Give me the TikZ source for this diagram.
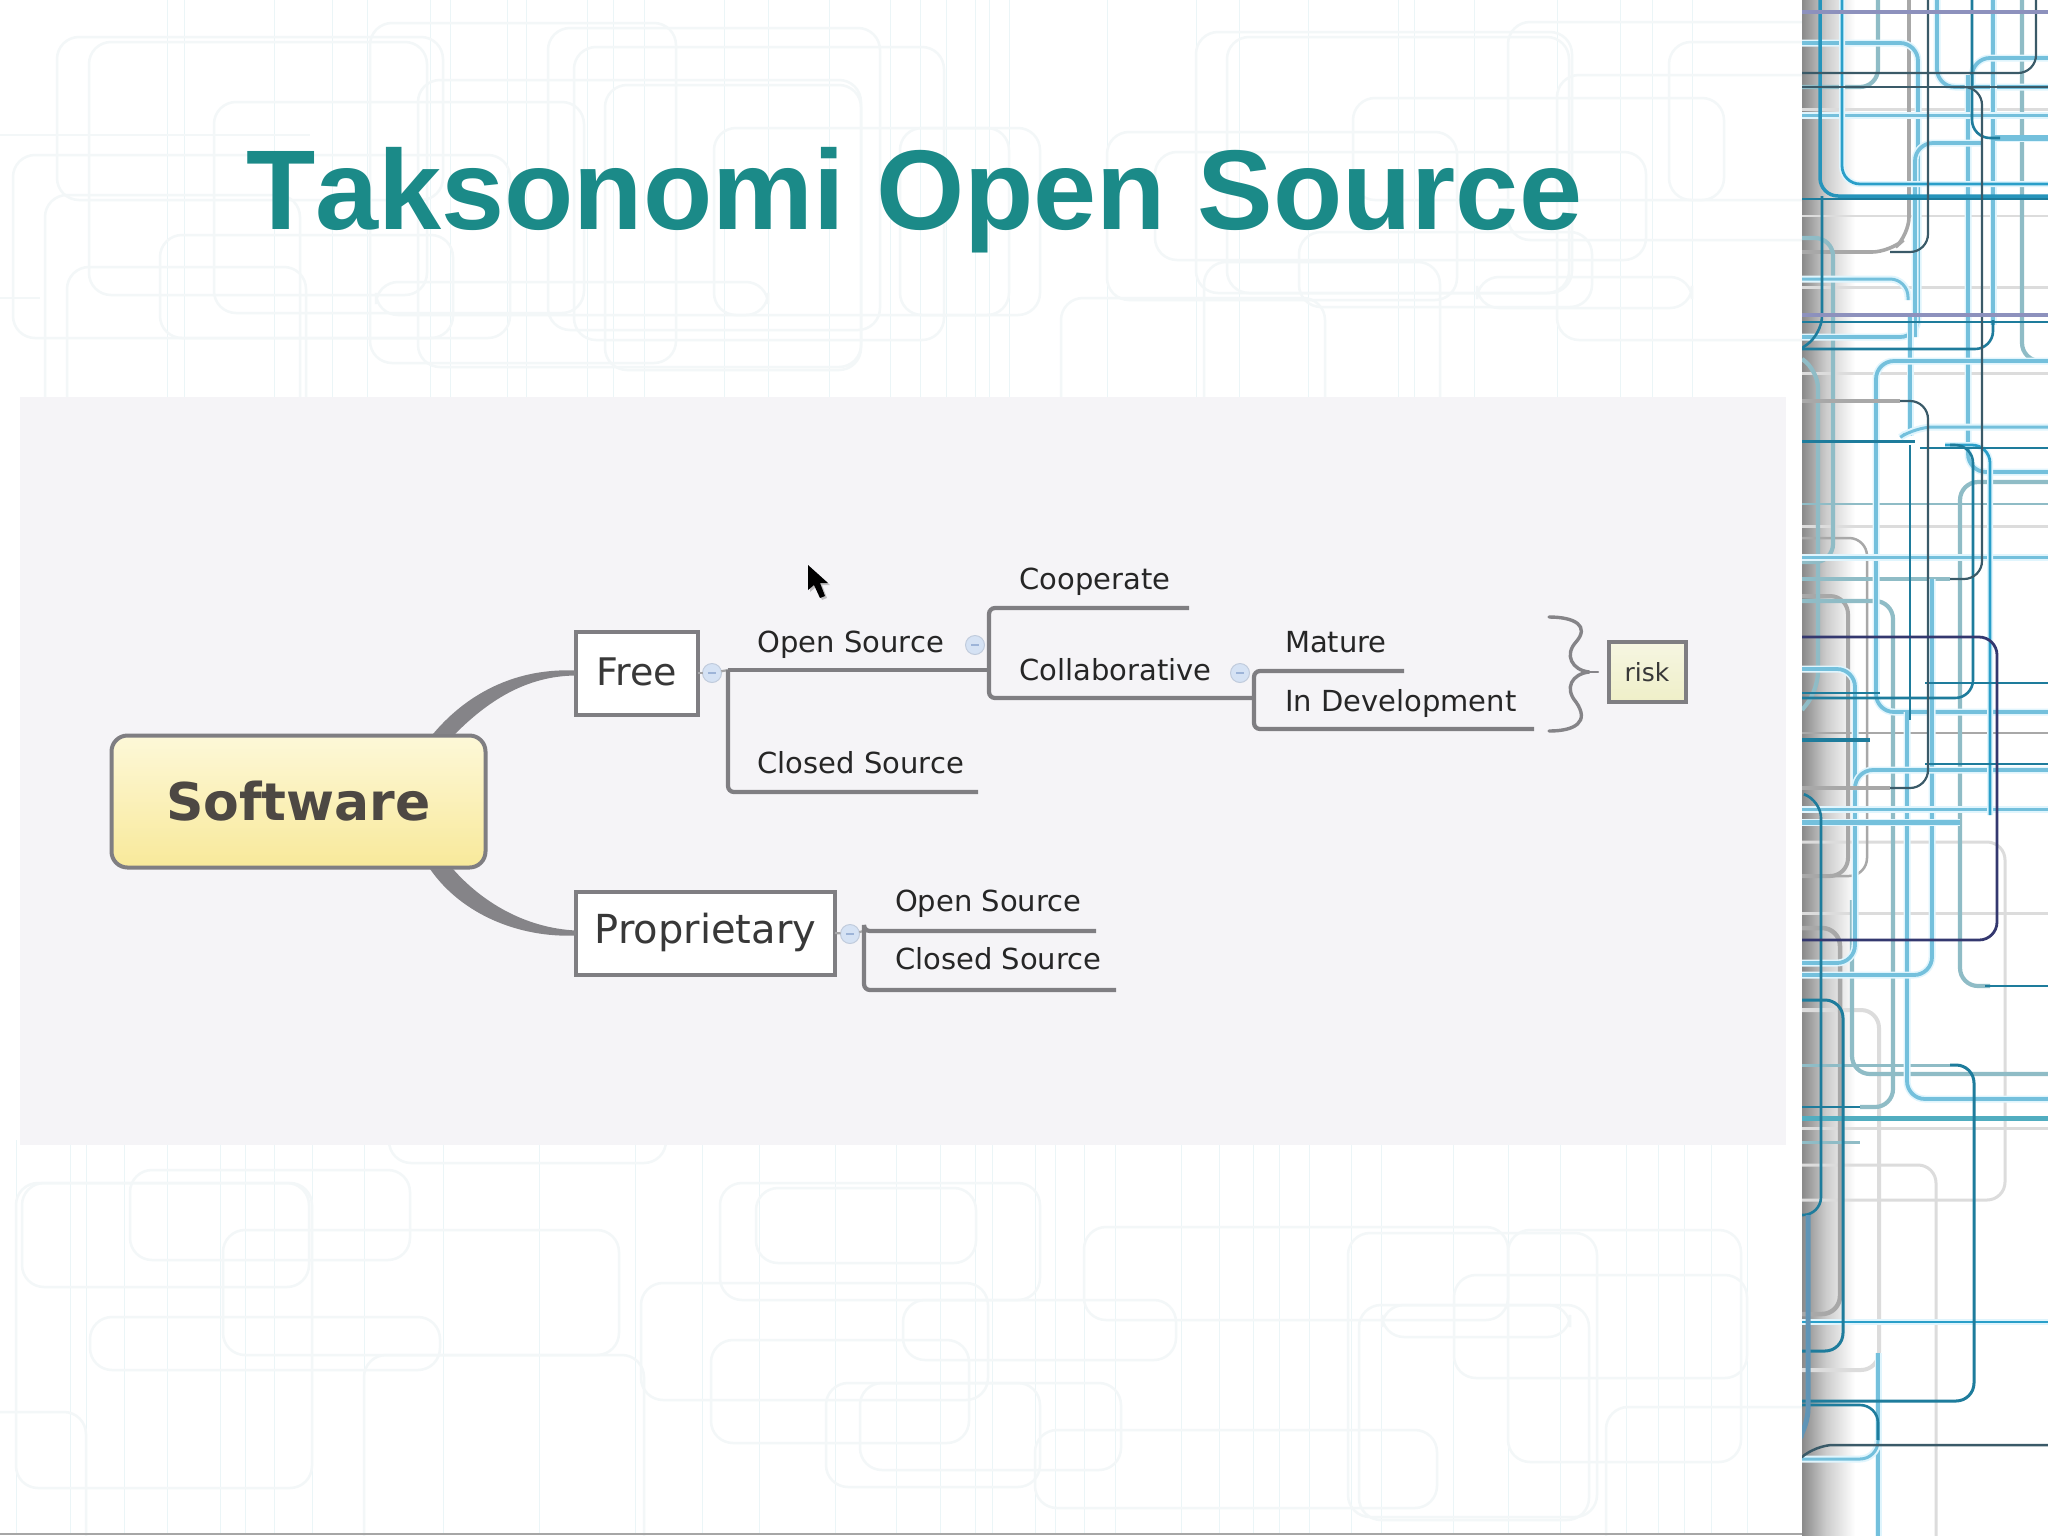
\documentclass[tikz,border=0pt]{standalone}
\usepackage{fontspec}
\usetikzlibrary{calc}
\setmainfont{DejaVu Sans}
\newfontfamily\ttlfont{Liberation Sans}[Kerning=Off]
\definecolor{ttl}{HTML}{1B8A88}
\definecolor{pnl}{HTML}{F5F4F7}
\definecolor{frect}{HTML}{F3F7F8}
\definecolor{fline}{HTML}{EBF5F7}
\definecolor{edge}{HTML}{7F7E82}
\definecolor{cdt}{HTML}{1E7C9C}
\definecolor{clb}{HTML}{74C0DC}
\definecolor{ctb}{HTML}{2A9FC9}
\definecolor{cgt}{HTML}{8FBCC6}
\definecolor{cgy}{HTML}{A8A8A8}
\definecolor{cpg}{HTML}{DCDCDC}
\definecolor{cdk}{HTML}{3A5A68}
\definecolor{cpu}{HTML}{8D91BD}
\definecolor{cnv}{HTML}{34386F}
\definecolor{cst}{HTML}{5F94B6}
\definecolor{sofT}{HTML}{FDF8D8}
\definecolor{sofB}{HTML}{F8E99A}
\definecolor{sofX}{HTML}{4D4843}
\definecolor{rskT}{HTML}{F6F6E2}
\definecolor{rskB}{HTML}{EFEFC8}
\definecolor{knobF}{HTML}{D5E2F4}
\definecolor{knobD}{HTML}{9DB4D8}
\tikzset{
 frc/.style={draw=frect,line width=2.5,rounded corners=22},
 fvl/.style={draw=fline,line width=1},
 dt/.style={draw=cdt,line width=2.6},
 lb/.style={draw=clb,line width=3.8,preaction={draw=cyan!12,line width=7}},
 tb/.style={draw=ctb,line width=2.8,preaction={draw=cyan!12,line width=6}},
 gt/.style={draw=cgt,line width=4.2},
 gy/.style={draw=cgy,line width=3.6},
 pg/.style={draw=cpg,line width=3},
 dk/.style={draw=cdk,line width=2.2},
 pu/.style={draw=cpu,line width=3.6},
 nv/.style={draw=cnv,line width=2.8},
 st/.style={draw=cst,line width=5},
 rc/.style={rounded corners=18},
 topic/.style={draw=edge,line width=4,fill=white,inner sep=0,outer sep=0,text=black!78,align=center},
 branch/.style={draw=edge,line width=4.2,rounded corners=6},
 lbl/.style={anchor=base west,inner sep=0,outer sep=0,text=black!85,font=\fontsize{29}{32}\selectfont},
 knob/.style={circle,inner sep=0,outer sep=0,minimum size=19,fill=knobF,draw=knobF!90!black,line width=1},
 kdash/.style={draw=knobD,line width=1.5},
 stub/.style={draw=edge!70,line width=2.2},
 taper/.style={fill=edge!95,draw=none},
 brace/.style={draw=edge!95,line width=3.4,line cap=round},
}
\begin{document}
\begin{tikzpicture}[x=1pt,y=-1pt]
\useasboundingbox (0,0) rectangle (2048,1535);
\fill[white] (0,0) rectangle (2048,1535);
% faint background pattern
\foreach \a in {167,184,274,332,367,430,450,507,526,587,613,644,724,768,829,890,920,946,975,989,1009,1107,1196,1239,1308,1398,1414,1474,1557,1620,1652,1692}
  \draw[fvl] (\a,0) -- (\a,400);
\foreach \a in {16,70,86,124,167,220,245,274,312,364,443,539,635,702,759,835,896,940,975,992,1035,1055,1084,1115,1181,1219,1253,1279,1309,1351,1381,1453,1508,1560,1626,1658,1684,1711,1747}
  \draw[fvl] (\a,1140) -- (\a,1533);
\foreach \a/\b/\c/\d in {
  57/37/443/200, 89/42/427/295, 370/23/676/363, 548/28/880/330, 574/47/944/340,
  418/80/861/367, 605/85/861/370, 214/102/584/313, 714/128/1040/315, 13/155/510/338,
  45/195/300/420, 160/235/453/338, 67/267/306/420, 376/282/768/315,
  1196/32/1572/293, 1227/37/1569/293, 1508/22/1830/240, 1557/75/1830/340, 1353/98/1724/200,
  1669/42/1830/200, 1107/132/1457/300, 1155/152/1646/260, 1299/232/1592/307,
  1061/298/1325/420, 900/128/1009/315, 1204/262/1440/420, 1477/277/1692/308,
  16/1183/312/1488, 22/1183/309/1287, 223/1230/619/1355, 720/1183/1040/1300, 756/1188/976/1263,
  641/1283/988/1400, 711/1340/969/1443, 826/1383/1040/1487, 364/1355/644/1560, 90/1317/440/1370,
  389/1100/666/1163, -40/1412/86/1560, 1084/1227/1508/1320, 1348/1233/1597/1517, 1454/1275/1747/1378,
  1359/1305/1589/1520, 1382/1305/1570/1337, 1035/1430/1437/1508, 860/1383/1121/1470,
  1508/1230/1741/1462, 903/1300/1176/1360, 1606/1407/1830/1560, 130/1170/410/1260}
  \draw[frc] (\a,\b) rectangle (\c,\d);
\draw[frc] (-5,135) -- (310,135);
\draw[frc] (-5,298) -- (40,298);
% title
\node[anchor=base west,inner sep=0,text=ttl,font=\ttlfont\bfseries\fontsize{113.4}{120}\selectfont] (title) at (246,229) {Taksonomi Open Source};
% panel
\fill[pnl] (20,396.5) rectangle (1786,1145);
\draw[gray!70,line width=2] (0,1534) -- (1802,1534);
% right decorative strip
\fill[white] (1802,0) rectangle (2048,1535);
\shade[left color=black!46,right color=black!20] (1802,0) rectangle (1826,1535);
\shade[left color=black!20,right color=white] (1826,0) rectangle (1855,1535);
\begin{scope}
\clip (1802,0) rectangle (2048,1535);
\foreach \y in {109,373,913,1128,526,287}
  \draw[pg] (1802,\y) -- (2048,\y);
\draw[pg,line width=2] (1802,216) -- (2048,216);
\draw[pg,rc] (1802,842) -- (2005,842) -- (2005,1200) -- (1802,1200);
\draw[pg,rc] (1802,1165) -- (1936,1165) -- (1936,1540);
\draw[pg,rc,line width=4] (1802,1010) -- (1879,1010) -- (1879,1370) -- (1802,1370);
\draw[gy,rc,line width=2.5] (1802,538) -- (1867,538) -- (1867,876) -- (1802,876);
\draw[gy,rc,line width=4] (1802,596) -- (1848,596) -- (1848,876) -- (1802,876);
\draw[gy,rc] (1802,252) -- (1890,252) -- (1909,235) -- (1909,-5);
\draw[gy,rc,line width=4.5] (1802,928) -- (1840,928) -- (1840,1314) -- (1802,1314);
\draw[gy,line width=2] (1802,733) -- (2048,733);
\draw[gt,rc] (1878,-5) -- (1878,87) -- (1802,87);
\draw[gt,rc] (2022,-5) -- (2022,361) -- (2053,361);
\draw[gt,rc] (1802,238) -- (1833,238) -- (1833,562) -- (1802,562);
\draw[gt,rc] (1802,359) -- (1818,370) -- (1818,690) -- (1802,710);
\draw[gt,rc] (2053,482) -- (1960,482) -- (1960,986) -- (1990,986);
\draw[gt,rc] (1802,601) -- (1893,601) -- (1893,1107) -- (1860,1107);
\draw[gt,line width=2] (1802,504) -- (2048,504);
\draw[gt,line width=3.5] (1802,579) -- (1950,579);
\draw[gt,rc] (1852,900) -- (1852,1074) -- (2053,1074);
\draw[gt,line width=3] (1802,1065) -- (1950,1065);
\draw[gt,line width=3] (1802,1142) -- (1860,1142);
\draw[draw=clb!70!teal,line width=5] (1802,1118) -- (2048,1118);
\draw[lb,rc] (1802,43) -- (1918,43) -- (1918,337) -- (1802,337);
\draw[lb,rc] (1937,-5) -- (1937,87) -- (2053,87);
\draw[lb] (1993,-5) -- (1993,325);
\draw[lb,rc] (2053,58) -- (1972,58) -- (1972,85);
\draw[lb,rc] (2053,472) -- (1968,472) -- (1968,75);
\draw[lb,rc] (1982,143) -- (1915,143) -- (1915,337);
\draw[lb] (1910,315) -- (1910,436);
\draw[lb,rc,line width=3] (1802,279) -- (1908,279) -- (1908,300);
\draw[lb,rc] (2053,361) -- (1876,361) -- (1876,712) -- (2053,712);
\draw[lb,rc] (1907,712) -- (1907,1099) -- (2053,1099);
\draw[lb,rc] (1802,975) -- (1932,975) -- (1932,579);
\draw[lb,rc] (1802,669) -- (1855,669) -- (1855,963) -- (1802,963);
\draw[lb,rc,line width=3] (2053,427) -- (1915,427) -- (1905,434);
\draw[lb,line width=3] (1802,557) -- (2048,557);
\draw[lb,line width=3] (1802,115) -- (2048,115);
\draw[lb,line width=3] (1802,809) -- (2048,809);
\draw[lb,line width=6] (1995,138) -- (2048,138);
\draw[lb,line width=5] (1802,822) -- (1960,822);
\draw[lb,rc] (2053,770) -- (1855,770) -- (1855,790);
\draw[lb] (1878,1353) -- (1878,1540);
\draw[lb,rc,line width=3] (1802,1459) -- (1878,1459) -- (1878,1440);
\draw[tb,rc] (1842,-5) -- (1842,184) -- (2053,184);
\draw[tb,rc] (1945,445) -- (1990,445) -- (1990,815);
\draw[tb] (1802,1322) -- (2048,1322);
\draw[dt,rc,line width=3.5,draw=ctb!70!cdt] (1820,-5) -- (1820,196) -- (2053,196);
\draw[dt,rc] (1972,-5) -- (1972,138) -- (2000,138);
\draw[dt,rc] (1993,320) -- (1993,349) -- (1802,349);
\draw[dt] (1802,199) -- (2048,199);
\draw[dt] (1802,322) -- (2048,322);
\draw[dt,rc] (1822,196) -- (1822,334) -- (1802,348);
\draw[dt,line width=3] (1802,441) -- (1915,441);
\draw[dt] (1920,448) -- (2048,448);
\draw[dt] (1910,445) -- (1910,720);
\draw[dt,rc] (1950,445) -- (1973,445) -- (1973,698) -- (1802,698);
\draw[dt] (1985,986) -- (2048,986);
\draw[dt] (1925,683) -- (2048,683);
\draw[dt] (1802,693) -- (1880,693);
\draw[dt,line width=4] (1802,740) -- (1870,740);
\draw[dt] (1925,764) -- (2048,764);
\draw[dt,rc] (1806,795) -- (1821,800) -- (1821,1215) -- (1802,1215);
\draw[dt,rc,line width=3] (1802,1000) -- (1843,1000) -- (1843,1351) -- (1802,1351);
\draw[dt,rc,line width=3] (1950,1065) -- (1974,1065) -- (1974,1401) -- (1802,1401);
\draw[dt,rc] (1802,1405) -- (1878,1405) -- (1878,1440);
\draw[dt] (1860,1107) -- (1802,1107);
\draw[dk,rc] (2036,-5) -- (2036,73) -- (1802,73);
\draw[dk,rc] (1928,-5) -- (1928,252) -- (1890,252);
\draw[dk,rc] (1960,87) -- (1982,87) -- (1982,579) -- (1950,579);
\draw[gy,line width=4] (1802,401) -- (1900,401);
\draw[dk,rc] (1900,401) -- (1928,401) -- (1928,788) -- (1890,788);
\draw[gy,line width=4] (1890,788) -- (1802,788);
\draw[dk,rc,line width=2.5] (1802,1457) -- (1815,1445) -- (2053,1445);
\draw[dk,line width=2] (1802,87) -- (2048,87);
\draw[pu] (1802,12) -- (2048,12);
\draw[pu] (1802,315) -- (2048,315);
\draw[nv,rc] (1802,637) -- (1997,637) -- (1997,940) -- (1802,940);
\draw[st,rc] (1808,1215) -- (1808,1427) -- (1802,1435);
\end{scope}
% mind map nodes
\node[topic,rounded corners=16,top color=sofT,bottom color=sofB,
  minimum width=374,minimum height=132,text=sofX,font=\bfseries\fontsize{52}{56}\selectfont,text height=45,text depth=7] (software) at (298.5,801.5) {Software};
\node[topic,minimum width=122,minimum height=83,font=\fontsize{38}{40}\selectfont,text height=30,text depth=6] (free) at (636.5,673) {Free};
\node[topic,minimum width=259,minimum height=83,font=\fontsize{40}{42}\selectfont,text height=30,text depth=10] (prop) at (705.5,933) {Proprietary};
\node[topic,minimum width=77,minimum height=60,top color=rskT,bottom color=rskB,font=\fontsize{25}{28}\selectfont,text height=24,text depth=5] (risk) at (1647,671.5) {risk};
\node[lbl] (os) at (757.6,652) {Open Source};
\node[lbl] (cs) at (757.6,773) {Closed Source};
\node[lbl] (coop) at (1019.5,589) {Cooperate};
\node[lbl] (coll) at (1019.5,680) {Collaborative};
\node[lbl] (mat) at (1285,652) {Mature};
\node[lbl] (dev) at (1285,711) {In Development};
\node[lbl] (os2) at (895,911) {Open Source};
\node[lbl] (cs2) at (895,969) {Closed Source};
\node[knob] (k1) at (712,673) {};
\node[knob] (k2) at (975,645) {};
\node[knob] (k3) at (1240,673) {};
\node[knob] (k4) at (850,934) {};
\foreach \k in {k1,k2,k3,k4}
  \draw[kdash] ($(\k)+(-4,0)$) -- ($(\k)+(4,0)$);
% connector end points
\coordinate (j1) at (728,670);
\coordinate (j2) at (989,670);
\coordinate (j3) at (1254,698);
\coordinate (j4) at (864,931);
\coordinate (e1) at (978,792);
\coordinate (e2) at (1189,608);
\coordinate (e3) at (1404,671);
\coordinate (e4) at (1534,729);
\coordinate (e5) at (1096,931);
\coordinate (e6) at (1116,990);
\coordinate (s1) at (433,734);
\coordinate (s2) at (455,734);
\coordinate (s3) at (430,869);
\coordinate (s4) at (453,869);
\coordinate (bt) at (1549,617);
\coordinate (bb) at (1549,731);
\coordinate (bm) at (1589,672);
\coordinate (bx) at (1598,672);
% curved tapered links
\fill[taper] ($(free.west)+(0,-2.5)$) .. controls (520,668) and (470,690) .. (s1) -- (s2) .. controls (487,702) and (525,676) .. ($(free.west)+(0,2.5)$) -- cycle;
\fill[taper] ($(prop.west)+(0,2.5)$) .. controls (520,938) and (462,915) .. (s3) -- (s4) .. controls (482,902) and (525,928) .. ($(prop.west)+(0,-2.5)$) -- cycle;
% bracket connectors
\draw[stub] (free.east) -- (k1);
\draw[stub] (k1) -- (j1);
\draw[stub] (prop.east) -- (k4);
\draw[stub] (k4) -- (j4);
\draw[branch] (j1) -- (j2);
\draw[branch] (j1) |- (e1);
\draw[branch] (e2) -| (j2) |- (j3);
\draw[branch] (e3) -| (j3) |- (e4);
\draw[branch] (e5) -| (j4) |- (e6);
% summary brace
\draw[brace] (bt) .. controls (1575,617) and (1590,626) .. (1576,642) .. controls (1564,655) and (1572,670) .. (bm);
\draw[brace] (bb) .. controls (1575,731) and (1590,722) .. (1576,702) .. controls (1564,688) and (1572,674) .. (bm);
\draw[brace,line width=2] (bm) -- (bx);
% mouse pointer
\fill[black!45,opacity=.5] (810,567) -- (810,592) -- (816,587) -- (822,600) -- (827,598) -- (822,585) -- (830,585) -- cycle;
\fill[black] (808,565) -- (808,590) -- (814,585) -- (820,598) -- (825,596) -- (820,583) -- (828,583) -- cycle;
\end{tikzpicture}
\end{document}
